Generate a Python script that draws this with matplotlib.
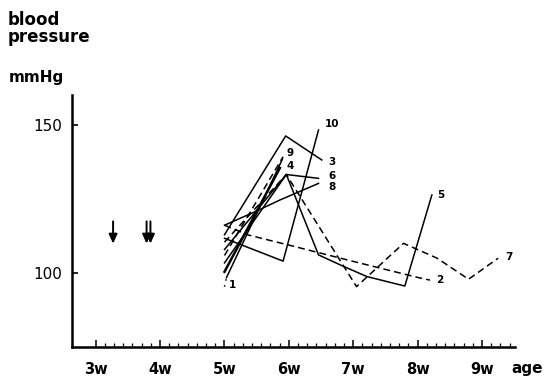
import numpy as np
import matplotlib
matplotlib.use("Agg")
import matplotlib.pyplot as plt

# ---- data (age in weeks, blood pressure in mmHg) ----
s1_x = [5.0, 5.03, 5.9]
s1_y = [95.5, 98.5, 138.5]
s2_x = [5.0, 5.37, 6.0, 7.0, 8.0, 8.19]
s2_y = [116.2, 112.9, 109.5, 104.0, 98.6, 97.7]
s3_x = [5.0, 5.95, 6.51]
s3_y = [113.0, 146.3, 138.2]
s4_x = [5.0, 5.86]
s4_y = [100.5, 135.5]
s5_x = [5.0, 5.96, 6.46, 6.8, 7.21, 7.8, 8.22]
s5_y = [103.5, 133.3, 106.2, 102.8, 98.9, 95.7, 126.4]
s6_x = [5.0, 5.96, 6.46]
s6_y = [108.0, 133.3, 132.0]
s7_x = [5.0, 5.96, 7.05, 7.78, 8.30, 8.79, 9.25]
s7_y = [110.5, 133.3, 95.5, 110.1, 105.1, 98.0, 105.1]
s8_x = [5.0, 5.5, 5.86, 6.46]
s8_y = [116.2, 121.0, 124.7, 130.3]
s9_x = [5.0, 5.91]
s9_y = [106.0, 139.3]
s10_x = [5.0, 5.91, 6.46]
s10_y = [111.8, 104.1, 148.3]

ytick_vals = [100, 150]
week_vals = [3, 4, 5, 6, 7, 8, 9]
week_labels = ["3w", "4w", "5w", "6w", "7w", "8w", "9w"]
arrow_x = [3.27, 3.79, 3.85]

series_labels = ["1", "2", "3", "4", "5", "6", "7", "8", "9", "10"]
label_pos = [(5.07, 96.1), (8.29, 97.7), (6.61, 137.5), (5.97, 136.2),
             (8.30, 126.4), (6.61, 132.8), (9.36, 105.5), (6.61, 129.1),
             (5.97, 140.6), (6.56, 150.3)]

fig = plt.figure(figsize=(5.44, 3.79), dpi=100)
ax = fig.add_axes([72/544, 32/379, 443/544, 252/379])
ax.set_xlim(2.632, 9.511)
ax.set_ylim(75.15, 160.1)

for s in ["top", "right"]:
    ax.spines[s].set_visible(False)
for s in ["left", "bottom"]:
    ax.spines[s].set_linewidth(1.8)

lw = 1.1
dash = (4.5, 2.7)
ax.plot(s1_x[:2], s1_y[:2], color="black", lw=lw, linestyle=(0, (1, 3)))
ax.plot(s1_x[1:], s1_y[1:], color="black", lw=lw)
ax.plot(s2_x, s2_y, color="black", lw=lw, dashes=dash)
ax.plot(s3_x, s3_y, color="black", lw=lw)
ax.plot(s4_x, s4_y, color="black", lw=1.8)
ax.plot(s5_x, s5_y, color="black", lw=lw)
ax.plot(s6_x, s6_y, color="black", lw=lw)
ax.plot(s7_x, s7_y, color="black", lw=lw, dashes=dash)
ax.plot(s8_x, s8_y, color="black", lw=lw)
ax.plot(s9_x, s9_y, color="black", lw=lw, dashes=dash)
ax.plot(s10_x, s10_y, color="black", lw=lw)

for lab, (x, y) in zip(series_labels, label_pos):
    ax.text(x, y, lab, fontsize=7.5, fontweight="bold", ha="left", va="center")

for xa in arrow_x:
    ax.annotate("", xy=(xa, 110.0), xytext=(xa, 117.5),
                arrowprops=dict(arrowstyle="-|>,head_length=0.55,head_width=0.25",
                                color="black", lw=1.4, shrinkA=0, shrinkB=0))

ax.set_yticks(ytick_vals)
ax.set_yticklabels([str(v) for v in ytick_vals])
ax.tick_params(axis="y", direction="in", length=4, width=1.2, pad=7, labelsize=11)

ax.set_xticks(week_vals)
ax.set_xticklabels(week_labels, fontweight="bold")
ax.set_xticks(np.arange(3, 9 + 3/7 + 1e-6, 1/7), minor=True)
ax.tick_params(axis="x", which="major", direction="in", length=5, width=1.1,
               pad=11, labelsize=10.5)
ax.tick_params(axis="x", which="minor", direction="in", length=3, width=0.9)

fig.text(511/544, 1 - 368/379, "age", fontsize=11, fontweight="bold",
         ha="left", va="center")
fig.text(8/544, 1 - 25/379, "blood", fontsize=12, fontweight="bold",
         ha="left", va="baseline")
fig.text(8/544, 1 - 42/379, "pressure", fontsize=12, fontweight="bold",
         ha="left", va="baseline")
fig.text(9/544, 1 - 82/379, "mmHg", fontsize=11, fontweight="bold",
         ha="left", va="baseline")

fig.savefig("out.png", dpi=100)
